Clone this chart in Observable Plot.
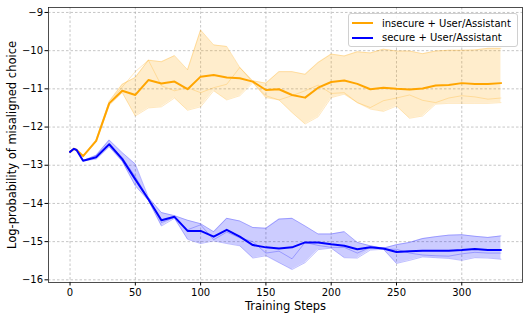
<!DOCTYPE html>
<html>
<head>
<meta charset="utf-8">
<script src="https://cdn.jsdelivr.net/npm/d3@7"></script>
<script src="https://cdn.jsdelivr.net/npm/@observablehq/plot@0.6"></script>
<style>
  body { margin: 0; background: white; font-family: "DejaVu Sans", sans-serif; }
  #wrap { position: relative; width: 532px; height: 319px; }
  #legend { position: absolute; left: 348px; top: 13px; width: 168px; height: 32px;
    border: 1px solid #d0d0d0; border-radius: 3px; background: rgba(255,255,255,0.85);
    font-size: 10px; color: #000; }
  .row { position: absolute; left: 0; height: 14px; display: flex; align-items: center; }
  .sw { width: 21px; height: 2px; margin-left: 3px; margin-right: 9px; }
</style>
</head>
<body>
<div id="wrap"><div id="legend"></div></div>
<script>
const steps = [0,3,5,10,20,30,40,50,60,70,80,90,100,110,120,130,140,150,160,170,180,190,200,210,220,230,240,250,260,270,280,290,300,310,320,330];

const insecureMean = [-12.65,-12.57,-12.6,-12.76,-12.36,-11.38,-11.05,-11.16,-10.77,-10.86,-10.81,-11.01,-10.68,-10.64,-10.70,-10.72,-10.81,-11.03,-11.01,-11.16,-11.23,-10.97,-10.82,-10.78,-10.87,-11.01,-10.97,-11.0,-11.02,-10.99,-10.91,-10.9,-10.85,-10.87,-10.87,-10.85];
const insecureUpper = [-12.65,-12.57,-12.6,-12.76,-12.34,-11.33,-10.88,-10.70,-10.25,-10.29,-10.13,-10.50,-9.46,-9.85,-9.89,-10.44,-10.79,-10.85,-10.55,-10.55,-10.62,-10.31,-10.09,-10.14,-10.03,-10.06,-9.96,-10.01,-10.01,-10.08,-10.01,-9.99,-9.99,-9.98,-9.94,-9.94];
const insecureLower = [-12.65,-12.57,-12.6,-12.76,-12.38,-11.43,-11.1,-11.71,-11.50,-11.47,-11.24,-11.56,-11.47,-11.05,-11.29,-11.18,-10.84,-11.23,-11.29,-11.62,-11.92,-11.73,-11.23,-11.14,-11.36,-11.53,-11.59,-11.45,-11.77,-11.71,-11.40,-11.38,-11.38,-11.38,-11.38,-11.36];
const insecureInner = [-12.65,-12.57,-12.6,-12.76,-12.36,-11.38,-10.95,-10.55,-10.25,-10.92,-11.05,-10.97,-11.10,-10.97,-10.88,-10.44,-10.83,-11.18,-11.29,-11.18,-11.05,-10.9,-11.12,-11.10,-11.36,-11.49,-11.31,-11.24,-11.16,-11.30,-11.36,-11.24,-11.18,-11.21,-11.27,-11.24];

const secureMean = [-12.65,-12.57,-12.6,-12.88,-12.79,-12.45,-12.84,-13.37,-13.89,-14.44,-14.35,-14.72,-14.72,-14.87,-14.69,-14.87,-15.09,-15.15,-15.18,-15.15,-15.02,-15.02,-15.07,-15.11,-15.20,-15.15,-15.18,-15.27,-15.25,-15.24,-15.24,-15.24,-15.22,-15.19,-15.22,-15.22];
const secureUpper = [-12.65,-12.57,-12.6,-12.88,-12.74,-12.34,-12.67,-12.97,-13.84,-14.24,-14.32,-14.44,-14.53,-14.74,-14.39,-14.46,-14.63,-14.65,-14.41,-14.39,-14.59,-14.80,-14.80,-14.74,-15.02,-15.11,-15.17,-15.08,-15.02,-14.92,-14.87,-14.83,-14.82,-14.86,-14.89,-14.85];
const secureLower = [-12.65,-12.57,-12.6,-12.88,-12.84,-12.52,-12.9,-13.54,-13.92,-14.59,-14.39,-14.94,-15.05,-14.98,-15.05,-15.11,-15.43,-15.37,-15.55,-15.73,-15.55,-15.21,-15.17,-15.42,-15.43,-15.22,-15.20,-15.57,-15.49,-15.40,-15.42,-15.44,-15.49,-15.42,-15.43,-15.46];
const secureInner = [-12.65,-12.57,-12.6,-12.88,-12.79,-12.45,-12.8,-13.3,-13.88,-14.5,-14.37,-14.69,-14.56,-14.95,-14.75,-14.9,-15.0,-15.3,-15.25,-15.45,-15.02,-15.1,-15.15,-15.15,-15.3,-15.15,-15.2,-15.2,-15.3,-15.35,-15.37,-15.38,-15.32,-15.28,-15.3,-15.3];

const seriesNames = ["insecure + User/Assistant", "secure + User/Assistant"];
const seriesColors = ["#FFA500", "#0000FF"];
const xTicks = [0, 50, 100, 150, 200, 250, 300];
const yTicks = [-16, -15, -14, -13, -12, -11, -10, -9];
const xLabel = "Training Steps";
const yLabel = "Log-probability of misaligned choice";

function rows(mean, upper, lower, inner) {
  return steps.map((s, i) => ({step: s, mean: mean[i], upper: upper[i], lower: lower[i], inner: inner[i]}));
}
const insecure = rows(insecureMean, insecureUpper, insecureLower, insecureInner);
const secure = rows(secureMean, secureUpper, secureLower, secureInner);

function seriesMarks(data, color) {
  return [
    Plot.areaY(data, {x: "step", y1: "lower", y2: "upper", fill: color, fillOpacity: 0.2}),
    Plot.line(data, {x: "step", y: "upper", stroke: color, strokeOpacity: 0.25, strokeWidth: 1}),
    Plot.line(data, {x: "step", y: "lower", stroke: color, strokeOpacity: 0.25, strokeWidth: 1}),
    Plot.line(data, {x: "step", y: "inner", stroke: color, strokeOpacity: 0.25, strokeWidth: 1}),
    Plot.line(data, {x: "step", y: "mean", stroke: color, strokeWidth: 2})
  ];
}

const minus = d => String(d).replace("-", "\u2212");
const gridStyle = {stroke: "#b0b0b0", strokeOpacity: 0.9, strokeWidth: 0.8, strokeDasharray: "2.5,2"};

const chart = Plot.plot({
  width: 532, height: 319,
  marginLeft: 48, marginRight: 10, marginTop: 7, marginBottom: 37,
  x: {domain: [-16.5, 346.5]},
  y: {domain: [-16.07, -8.87]},
  style: {fontFamily: "DejaVu Sans", fontSize: "10px", background: "white", color: "#000", overflow: "visible"},
  marks: [
    Plot.gridX(xTicks, gridStyle),
    Plot.gridY(yTicks, gridStyle),
    ...seriesMarks(insecure, seriesColors[0]),
    ...seriesMarks(secure, seriesColors[1]),
    Plot.axisX(xTicks, {tickSize: 3.5, tickPadding: 2.5, tickFormat: minus, label: null, fontSize: 10}),
    Plot.axisY(yTicks, {tickSize: 3.5, tickPadding: 2, tickFormat: minus, label: null, fontSize: 10}),
    Plot.frame({stroke: "#222", strokeWidth: 0.8}),
    Plot.text([xLabel], {text: d => d, frameAnchor: "bottom", dy: 24, fontSize: 11.5, lineAnchor: "middle", textAnchor: "middle"}),
    Plot.text([yLabel], {text: d => d, frameAnchor: "left", dx: -36, rotate: -90, fontSize: 11.5, lineAnchor: "middle", textAnchor: "middle"})
  ]
});
const wrap = document.getElementById("wrap");
wrap.insertBefore(chart, wrap.firstChild);

const legend = document.getElementById("legend");
seriesNames.forEach((name, i) => {
  const r = document.createElement("div");
  r.className = "row";
  r.style.top = (2 + i * 14.5) + "px";
  const sw = document.createElement("div");
  sw.className = "sw";
  sw.style.background = seriesColors[i];
  const t = document.createElement("span");
  t.textContent = name;
  r.appendChild(sw); r.appendChild(t);
  legend.appendChild(r);
});
</script>
</body>
</html>
